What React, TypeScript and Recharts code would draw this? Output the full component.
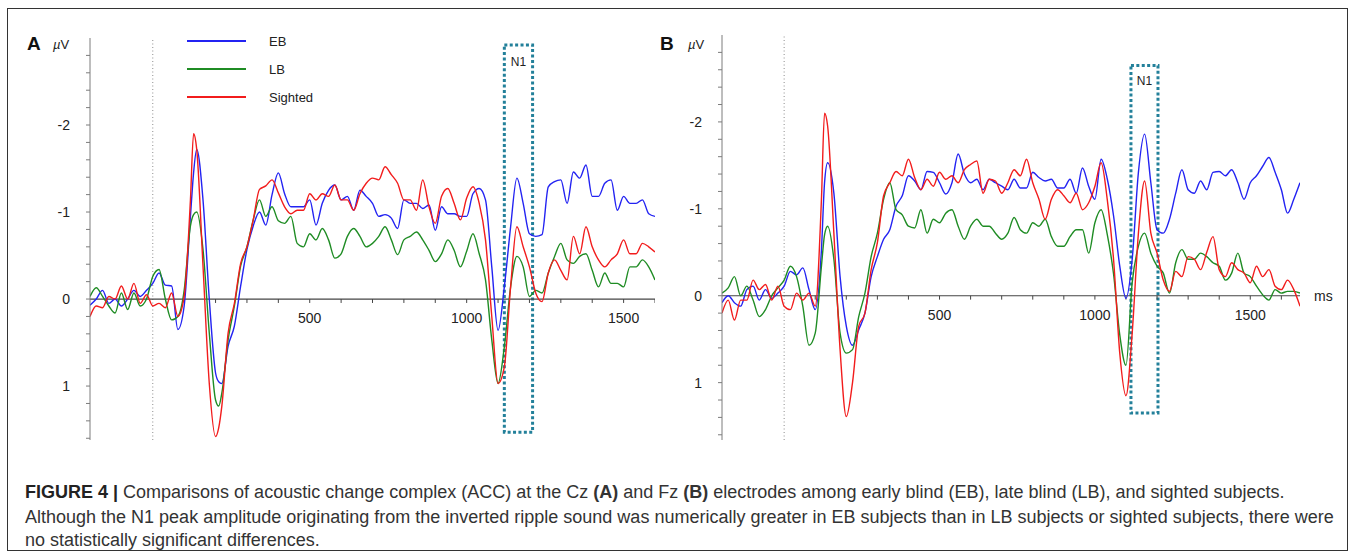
import React from "react";
import {
  LineChart,
  Line,
  XAxis,
  YAxis,
  ReferenceLine,
  ReferenceArea,
  ReferenceDot,
  Legend,
} from "recharts";

// ─── Palette ──────────────────────────────────────────────────────────────────
const COLORS = {
  eb: "#2323f2",
  lb: "#1f8c24",
  sighted: "#f21c1c",
  box: "#23809a",
  axis: "#7c7c7c",
  zero: "#444444",
  text: "#222222",
} as const;

const FONT = "'Liberation Sans', Arial, sans-serif";

// ─── Panel A (Cz) ─────────────────────────────────────────────────────────────
const timesA = [
  -200, -180, -160, -140, -120, -100, -80, -60, -40, -20, 0, 20, 40, 60, 80, 100, 120, 130, 140, 160,
  180, 200, 210, 220, 240, 260, 280, 300, 320, 340, 360, 380, 400, 420, 440, 460, 480, 500, 520, 540,
  560, 580, 600, 620, 640, 660, 680, 700, 720, 740, 760, 780, 800, 820, 840, 860, 880, 900, 920, 940,
  960, 980, 1000, 1020, 1040, 1060, 1080, 1100, 1120, 1140, 1160, 1180, 1200, 1220, 1240, 1260, 1280,
  1300, 1320, 1340, 1360, 1380, 1400, 1420, 1440, 1460, 1480, 1500, 1520, 1540, 1560, 1580, 1600,
];

const ebA = [
  0.07, 0, -0.1, 0.05, 0, 0.08, 0, -0.1, -0.03, -0.1, -0.18, -0.3, -0.16, -0.15, 0.35, 0.08, -0.95, -1.45, -1.72, -1.14,
  0, 0.85, 0.95, 0.97, 0.54, 0.31, -0.15, -0.57, -0.84, -1.0, -0.85, -1.2, -1.45, -1.21, -1.06, -1.06, -1.06, -1.14, -0.85, -1.1,
  -1.25, -1.31, -1.14, -1.18, -1.02, -1.25, -1.18, -1.1, -0.95, -0.97, -0.93, -0.81, -1.14, -1.1, -1.1, -1.04, -1.08, -0.79, -1.06, -0.98,
  -0.98, -0.95, -0.95, -1.21, -1.27, -1.14, -0.37, 0.36, -0.14, -0.83, -1.39, -1.1, -0.75, -0.72, -0.74, -1.29, -1.35,
  -1.37, -1.1, -1.46, -1.39, -1.54, -1.18, -1.18, -1.33, -1.37, -1.02, -1.18, -1.1, -1.1, -1.14, -0.98, -0.95,
];

const lbA = [
  -0.03, -0.13, -0.03, 0.08, 0.16, -0.07, 0.12, -0.07, 0.08, 0, -0.26, -0.34, 0, 0.24, 0.2, -0.1, -0.84, -0.97, -1.0, -0.57,
  0.39, 1.16, 1.23, 1.08, 0.47, 0.08, -0.38, -0.6, -0.91, -1.14, -0.95, -1.06, -0.9, -0.87, -0.95, -0.64, -0.6, -0.75, -0.68, -0.81,
  -0.68, -0.47, -0.52, -0.72, -0.81, -0.72, -0.6, -0.64, -0.72, -0.83, -0.68, -0.51, -0.68, -0.72, -0.77, -0.68, -0.56, -0.43, -0.52, -0.68,
  -0.56, -0.37, -0.55, -0.75, -0.52, -0.22, 0.47, 0.97, 0.55, -0.14, -0.49, -0.37, -0.03, -0.1, -0.07, -0.3, -0.49,
  -0.64, -0.45, -0.41, -0.49, -0.52, -0.33, -0.14, -0.3, -0.18, -0.18, -0.14, -0.37, -0.37, -0.45, -0.37, -0.22,
];

const sightedA = [
  0.2, 0.08, 0.1, -0.03, 0, -0.15, 0, -0.18, 0.05, -0.05, 0.08, 0.05, 0.1, -0.07, 0.2, -0.03, -1.14, -1.9, -1.72, -0.38,
  0.97, 1.58, 1.48, 1.23, 0.39, 0.05, -0.41, -0.6, -0.91, -1.26, -1.3, -1.37, -1.22, -1.06, -0.98, -1.02, -1.02, -1.21, -1.14, -1.21,
  -1.18, -1.31, -1.14, -1.14, -1.02, -1.21, -1.33, -1.39, -1.37, -1.52, -1.43, -1.33, -1.14, -1.14, -1.02, -1.37, -1.06, -0.87, -1.18, -1.27,
  -1.1, -0.91, -1.16, -1.29, -1.1, -0.68, 0.2, 0.97, 0.78, -0.14, -0.83, -0.6, -0.37, -0.07, 0.03, -0.3, -0.45,
  -0.33, -0.22, -0.72, -0.52, -0.83, -0.6, -0.45, -0.37, -0.45, -0.52, -0.68, -0.52, -0.52, -0.64, -0.6, -0.54,
];

// ─── Panel B (Fz) ─────────────────────────────────────────────────────────────
const timesB = [
  -200, -180, -160, -140, -120, -100, -80, -60, -40, -20, 0, 20, 40, 60, 80, 100, 120, 130, 140, 160,
  180, 200, 220, 240, 260, 280, 300, 320, 340, 360, 380, 400, 420, 440, 460, 480, 500, 520, 540, 560,
  580, 600, 620, 640, 660, 680, 700, 720, 740, 760, 780, 800, 820, 840, 860, 880, 900, 920, 940, 960,
  980, 1000, 1020, 1040, 1060, 1080, 1100, 1120, 1140, 1160, 1180, 1200, 1220, 1240, 1260, 1280, 1300,
  1320, 1340, 1360, 1380, 1400, 1420, 1440, 1460, 1480, 1500, 1520, 1540, 1560, 1580, 1600, 1620, 1640, 1660,
];

const ebB = [
  0.08, 0, 0.08, 0.12, -0.07, -0.11, 0.05, -0.07, 0.03, -0.03, -0.11, -0.28, -0.24, -0.32, -0.07, 0.16, -0.53, -1.3, -1.53, -1.18,
  -0.22, 0.35, 0.57, 0.39, 0.2, -0.22, -0.45, -0.65, -0.76, -1.03, -1.15, -1.38, -1.32, -1.22, -1.43, -1.42, -1.3, -1.17, -1.3, -1.63,
  -1.4, -1.3, -1.34, -1.22, -1.34, -1.3, -1.26, -1.22, -1.34, -1.24, -1.24, -1.42, -1.36, -1.32, -1.34, -1.24, -1.24, -1.34, -1.18, -1.47,
  -1.26, -1.11, -1.57, -1.34, -0.92, -0.34, 0.03, -0.42, -1.42, -1.86, -1.3, -0.76, -0.72, -0.88, -1.18, -1.45, -1.22,
  -1.18, -1.32, -1.22, -1.42, -1.43, -1.38, -1.45, -1.3, -1.11, -1.3, -1.38, -1.49, -1.59, -1.42, -1.22, -0.95, -1.11, -1.3,
];

const lbB = [
  -0.03, -0.09, -0.22, 0, -0.11, 0.05, 0.24, 0.16, 0, -0.09, -0.18, -0.34, -0.22, 0.12, 0.57, 0.43, -0.34, -0.7, -0.8, -0.42,
  0.43, 0.66, 0.62, 0.24, -0.03, -0.45, -0.72, -1.11, -1.3, -0.99, -0.93, -0.8, -0.78, -0.99, -0.72, -0.88, -0.84, -0.95, -0.99, -0.8,
  -0.65, -0.8, -0.88, -0.8, -0.8, -0.72, -0.65, -0.72, -0.9, -0.76, -0.72, -0.84, -0.8, -0.88, -0.68, -0.57, -0.57, -0.68, -0.76, -0.76,
  -0.49, -0.84, -0.99, -0.7, -0.25, 0.45, 0.8, -0.15, -0.57, -0.72, -0.49, -0.34, -0.26, -0.03, -0.38, -0.53, -0.42,
  -0.42, -0.49, -0.45, -0.38, -0.34, -0.18, -0.26, -0.49, -0.26, -0.22, -0.11, -0.01, 0.05, -0.07, -0.03, -0.05, -0.05, -0.03,
];

const sightedB = [
  0.2, 0.05, 0.28, 0.05, 0.05, -0.18, -0.07, -0.13, 0.05, -0.11, 0.12, 0.16, -0.03, 0.05, -0.03, 0.12, -1.11, -2.1, -1.95, -0.72,
  0.62, 1.39, 1.0, 0.35, 0.2, -0.3, -0.61, -1.15, -1.3, -1.43, -1.38, -1.57, -1.36, -1.22, -1.34, -1.26, -1.42, -1.34, -1.38, -1.3,
  -1.45, -1.51, -1.55, -1.18, -1.34, -1.32, -1.18, -1.3, -1.45, -1.38, -1.57, -1.3, -1.11, -0.88, -1.11, -1.22, -1.15, -1.07, -1.18, -0.99,
  -1.07, -1.26, -1.53, -1.1, -0.42, 0.66, 1.15, 0.43, -0.72, -1.32, -0.72, -0.49, -0.18, -0.05, -0.28, -0.22, -0.45,
  -0.42, -0.3, -0.5, -0.68, -0.3, -0.22, -0.38, -0.3, -0.26, -0.15, -0.34, -0.22, -0.3, -0.11, -0.07, -0.18, -0.07, 0.12,
];

// ─── Axis ticks ───────────────────────────────────────────────────────────────
const yTickLabels = [-2, -1, 0, 1];
const yMinorTicks = [
  -2.8, -2.6, -2.4, -2.2, -2, -1.8, -1.6, -1.4, -1.2, -1, -0.8, -0.6, -0.4, -0.2, 0, 0.2, 0.4, 0.6, 0.8, 1, 1.2, 1.4, 1.6,
];
const xTickLabels = [500, 1000, 1500];
const xMinorTicks = [100, 200, 300, 400, 500, 600, 700, 800, 900, 1000, 1100, 1200, 1300, 1400, 1500, 1600];

const SERIES = [
  { key: "eb", label: "EB", color: COLORS.eb },
  { key: "lb", label: "LB", color: COLORS.lb },
  { key: "sighted", label: "Sighted", color: COLORS.sighted },
];

const CAPTION_2 =
  "Although the N1 peak amplitude originating from the inverted ripple sound was numerically greater in EB subjects than in LB subjects or sighted subjects, there were";
const CAPTION_3 = "no statistically significant differences.";

function buildRows(times: number[], eb: number[], lb: number[], sighted: number[]) {
  return times.map((t, i) => ({ t, eb: eb[i], lb: lb[i], sighted: sighted[i] }));
}

const rowsA = buildRows(timesA, ebA, lbA, sightedA);
const rowsB = buildRows(timesB, ebB, lbB, sightedB);

// ─── Pieces ───────────────────────────────────────────────────────────────────

function YTick({ x, y, payload }: any) {
  const v = payload?.value;
  if (!yTickLabels.includes(v)) return <g />;
  return (
    <text x={x - 14} y={y} dy={5} textAnchor="end" fontSize={14} fill={COLORS.text} fontFamily={FONT}>
      {String(v)}
    </text>
  );
}

function LegendBox({ payload }: any) {
  return (
    <div>
      {(payload ?? []).map((p: any) => (
        <div key={p.value} style={{ height: 28, display: "flex", alignItems: "center" }}>
          <span style={{ display: "inline-block", width: 59, height: 2, background: p.color }} />
          <span style={{ marginLeft: 23, fontSize: 13, color: COLORS.text, fontFamily: FONT }}>{p.value}</span>
        </div>
      ))}
    </div>
  );
}

interface PanelProps {
  rows: Record<string, number>[];
  xMax: number;
  yDomain: [number, number];
  box: { x1: number; x2: number; y1: number; y2: number; labelOffset: number };
  left: number;
  top: number;
  width: number;
  right: number;
  showLegend?: boolean;
  showMs?: boolean;
}

function ErpPanel({ rows, xMax, yDomain, box, left, top, width, right, showLegend, showMs }: PanelProps) {
  return (
    <div style={{ position: "absolute", left, top: 0 }}>
      <LineChart width={width} height={460} data={rows} margin={{ top, right, bottom: 20, left: 60 }}>
        <XAxis type="number" dataKey="t" domain={[-200, xMax]} hide allowDataOverflow />
        <YAxis
          type="number"
          domain={yDomain}
          reversed
          allowDataOverflow
          ticks={yMinorTicks}
          interval={0}
          width={30}
          tickSize={4}
          tick={<YTick />}
          axisLine={{ stroke: COLORS.axis }}
          tickLine={{ stroke: COLORS.axis }}
        />
        <ReferenceLine x={0} stroke="#8d8d8d" strokeDasharray="1 2.5" />
        <ReferenceLine
          y={0}
          stroke={COLORS.zero}
          strokeWidth={1.2}
          label={showMs ? { value: "ms", position: "right", offset: 14, fontSize: 14, fill: COLORS.text, fontFamily: FONT } : undefined}
        />
        {xMinorTicks.map((t) => (
          <ReferenceLine key={`tk-${t}`} segment={[{ x: t, y: 0 }, { x: t, y: 0.045 }]} stroke={COLORS.zero} />
        ))}
        {xTickLabels.map((t) => (
          <ReferenceDot
            key={`lb-${t}`}
            x={t}
            y={0}
            r={0}
            fill="none"
            stroke="none"
            label={{ value: String(t), position: "bottom", offset: 14, fontSize: 14, fill: COLORS.text, fontFamily: FONT }}
          />
        ))}
        <ReferenceArea
          x1={box.x1}
          x2={box.x2}
          y1={box.y1}
          y2={box.y2}
          fill="none"
          fillOpacity={0}
          stroke={COLORS.box}
          strokeWidth={3}
          strokeDasharray="3 2.4"
          label={{ value: "N1", position: "insideTop", offset: box.labelOffset, fontSize: 12, fill: COLORS.text, fontFamily: FONT }}
        />
        {showLegend && (
          <Legend
            layout="vertical"
            align="center"
            verticalAlign="middle"
            content={<LegendBox />}
            wrapperStyle={{ left: 187, top: 27, width: 140 }}
          />
        )}
        {SERIES.map((s) => (
          <Line
            key={s.key}
            type="monotone"
            dataKey={s.key}
            name={s.label}
            stroke={s.color}
            strokeWidth={1.4}
            dot={false}
            activeDot={false}
            isAnimationActive={false}
          />
        ))}
      </LineChart>
    </div>
  );
}

function PanelTag({ letter, left, muLeft }: { letter: string; left: number; muLeft: number }) {
  return (
    <>
      <div style={{ position: "absolute", left, top: 33, fontSize: 19, fontWeight: 700, fontFamily: FONT, color: "#111" }}>
        {letter}
      </div>
      <div style={{ position: "absolute", left: muLeft, top: 37, fontSize: 13, fontFamily: FONT, color: COLORS.text }}>
        <span style={{ fontStyle: "italic" }}>µ</span>V
      </div>
    </>
  );
}

export default function App() {
  const captionStyle: React.CSSProperties = {
    position: "absolute",
    left: 25,
    whiteSpace: "nowrap",
    fontSize: 18,
    lineHeight: "22px",
    fontFamily: FONT,
    color: "#333",
  };
  return (
    <div style={{ position: "absolute", left: 0, top: 0, width: 1355, height: 558, background: "#fff", overflow: "hidden" }}>
      <div
        style={{
          position: "absolute",
          left: 7,
          top: 8,
          width: 1341,
          height: 543,
          border: "1px solid #333",
          boxSizing: "border-box",
        }}
      />
      <PanelTag letter="A" left={27} muLeft={53} />
      <PanelTag letter="B" left={660} muLeft={688} />

      <ErpPanel
        rows={rowsA}
        xMax={1600}
        yDomain={[-3, 1.62]}
        box={{ x1: 1120, x2: 1210, y1: -2.92, y2: 1.53, labelOffset: 13 }}
        left={0}
        top={38}
        width={655}
        right={0}
        showLegend
      />
      <ErpPanel
        rows={rowsB}
        xMax={1660}
        yDomain={[-3, 1.66]}
        box={{ x1: 1116, x2: 1203, y1: -2.65, y2: 1.35, labelOffset: 11 }}
        left={632}
        top={35}
        width={718}
        right={50}
        showMs
      />

      <div style={{ ...captionStyle, top: 481 }}>
        <b style={{ color: "#222" }}>FIGURE 4 |</b> Comparisons of acoustic change complex (ACC) at the Cz <b>(A)</b> and Fz{" "}
        <b>(B)</b> electrodes among early blind (EB), late blind (LB), and sighted subjects.
      </div>
      <div style={{ ...captionStyle, top: 506 }}>{CAPTION_2}</div>
      <div style={{ ...captionStyle, top: 529 }}>{CAPTION_3}</div>
    </div>
  );
}
